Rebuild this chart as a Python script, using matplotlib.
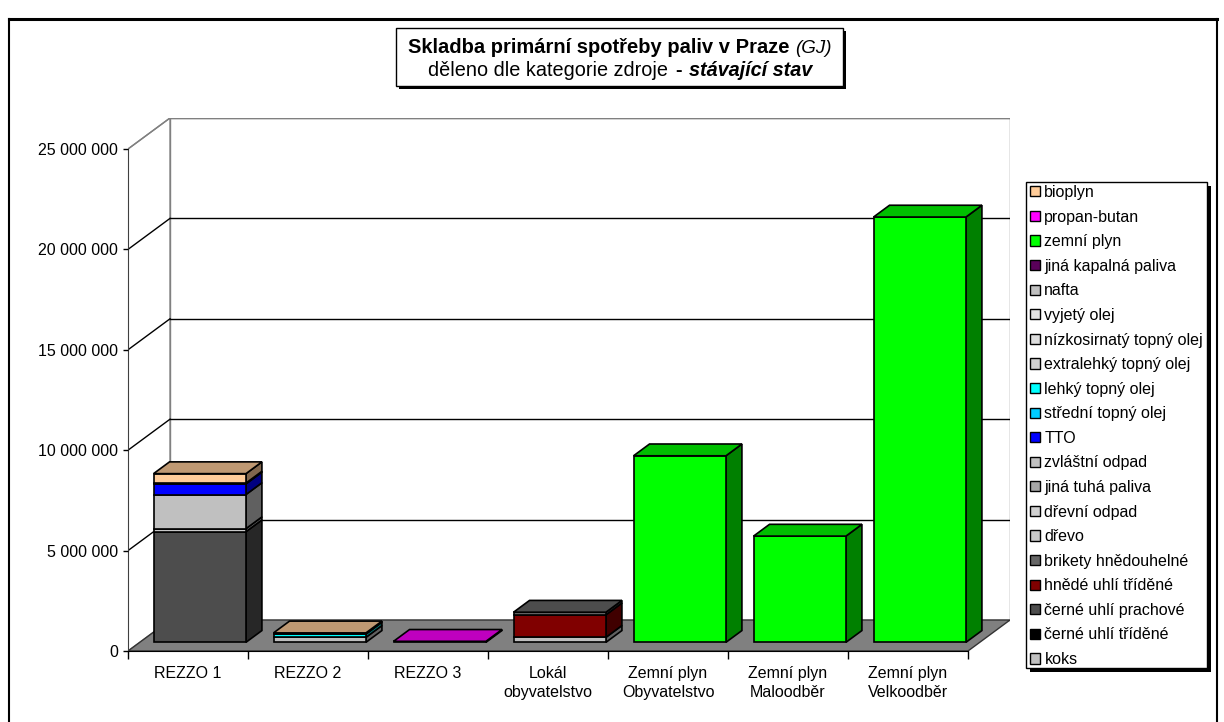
import matplotlib
matplotlib.use("Agg")
import matplotlib.pyplot as plt
import numpy as np
from matplotlib.patches import Polygon, Rectangle, Patch
from matplotlib.lines import Line2D
from matplotlib.colors import to_rgb
from matplotlib.offsetbox import TextArea, HPacker, VPacker, AnchoredOffsetbox

plt.rcParams["font.family"] = ["Liberation Sans", "DejaVu Sans"]

W, H = 1224, 722

categories = ["REZZO 1", "REZZO 2", "REZZO 3", "Lokál\nobyvatelstvo",
              "Zemní plyn\nObyvatelstvo", "Zemní plyn\nMaloodběr", "Zemní plyn\nVelkoodběr"]

# spotřeba paliv v GJ, jedna hodnota na kategorii zdroje
koks = [0, 250000, 0, 250000, 0, 0, 0]
cerne_uhli_tridene = [0, 0, 0, 0, 0, 0, 0]
cerne_uhli_prachove = [5510000, 0, 0, 0, 0, 0, 0]
hnede_uhli_tridene = [0, 0, 0, 1120000, 0, 0, 0]
brikety = [0, 0, 0, 130000, 0, 0, 0]
drevo = [150000, 0, 0, 0, 0, 0, 0]
drevni_odpad = [0, 0, 0, 0, 0, 0, 0]
jina_tuha_paliva = [0, 0, 0, 0, 0, 0, 0]
zvlastni_odpad = [1700000, 0, 0, 0, 0, 0, 0]
tto = [530000, 0, 0, 0, 0, 0, 0]
stredni_to = [0, 0, 0, 0, 0, 0, 0]
lehky_to = [0, 160000, 0, 0, 0, 0, 0]
extralehky_to = [0, 0, 0, 0, 0, 0, 0]
nizkosirnaty_to = [0, 0, 0, 0, 0, 0, 0]
vyjety_olej = [0, 0, 0, 0, 0, 0, 0]
nafta = [0, 0, 0, 0, 0, 0, 0]
jina_kapalna_paliva = [40000, 0, 0, 0, 0, 0, 0]
zemni_plyn = [0, 0, 0, 0, 9290000, 5290000, 21180000]
propan_butan = [0, 0, 50000, 0, 0, 0, 0]
bioplyn = [470000, 60000, 0, 0, 0, 0, 0]

# series in stacking order (bottom first)
series = [
    ("koks", koks, "#C0C0C0"),
    ("černé uhlí tříděné", cerne_uhli_tridene, "#000000"),
    ("černé uhlí prachové", cerne_uhli_prachove, "#4D4D4D"),
    ("hnědé uhlí tříděné", hnede_uhli_tridene, "#800000"),
    ("brikety hnědouhelné", brikety, "#666666"),
    ("dřevo", drevo, "#C8C8C8"),
    ("dřevní odpad", drevni_odpad, "#D0D0D0"),
    ("jiná tuhá paliva", jina_tuha_paliva, "#A6A6A6"),
    ("zvláštní odpad", zvlastni_odpad, "#C0C0C0"),
    ("TTO", tto, "#0000FF"),
    ("střední topný olej", stredni_to, "#00CCFF"),
    ("lehký topný olej", lehky_to, "#00FFFF"),
    ("extralehký topný olej", extralehky_to, "#D0D0D0"),
    ("nízkosirnatý topný olej", nizkosirnaty_to, "#DDDDDD"),
    ("vyjetý olej", vyjety_olej, "#E3E3E3"),
    ("nafta", nafta, "#C0C0C0"),
    ("jiná kapalná paliva", jina_kapalna_paliva, "#5A005A"),
    ("zemní plyn", zemni_plyn, "#00FF00"),
    ("propan-butan", propan_butan, "#FF00FF"),
    ("bioplyn", bioplyn, "#FFCC99"),
]

# pseudo 3D geometry
Y_PX = 5e6 / 100.4          # GJ per pixel
DEPTH_X = 42 / 120          # wall depth in category units
DEPTH_Y = 31 * Y_PX         # wall depth in GJ
BAR_W = 0.77
Z0, Z1 = 0.28, 0.66         # front / back of the columns inside the depth
Y_TOP = 25e6


def shade(c, f):
    return tuple(np.array(to_rgb(c)) * f)


fig = plt.figure(figsize=(W / 100, H / 100), dpi=100)
ax = fig.add_axes([128 / W, (H - 651) / H, (1010 - 128) / W, (651 - 118) / H])
n = len(categories)
ax.set_xlim(0, 882 / 120)
ax.set_ylim(0, 533 * Y_PX)
ax.patch.set_visible(False)

# walls and floor
back = Rectangle((DEPTH_X, DEPTH_Y), n, Y_TOP, facecolor="white", edgecolor="#808080", lw=1, zorder=0.5)
ax.add_patch(back)
side = Polygon([(0, 0), (0, Y_TOP), (DEPTH_X, Y_TOP + DEPTH_Y), (DEPTH_X, DEPTH_Y)],
               closed=True, facecolor="white", edgecolor="#808080", lw=1, zorder=0.5)
ax.add_patch(side)
floor = Polygon([(0, 0), (n, 0), (n + DEPTH_X, DEPTH_Y), (DEPTH_X, DEPTH_Y)],
                closed=True, facecolor="#808080", edgecolor="#333333", lw=1, zorder=0.9)
ax.add_patch(floor)

# gridlines on the back and left wall
for v in np.arange(5e6, Y_TOP + 1, 5e6):
    c = "#808080" if v == Y_TOP else "black"
    ax.plot([DEPTH_X, n + DEPTH_X], [v + DEPTH_Y, v + DEPTH_Y], color=c, lw=1, zorder=0.8)
    ax.plot([0, DEPTH_X], [v, v + DEPTH_Y], color=c, lw=1, zorder=0.8)

# stacked columns
fx, fy = Z0 * DEPTH_X, Z0 * DEPTH_Y
sx, sy = (Z1 - Z0) * DEPTH_X, (Z1 - Z0) * DEPTH_Y
for i in range(n):
    x0 = i + 0.5 - BAR_W / 2 + fx
    x1 = x0 + BAR_W
    base = 0.0
    top_color = None
    for name, vals, color in series:
        v = vals[i]
        if v <= 0:
            continue
        y0, y1 = base + fy, base + v + fy
        ax.add_patch(Polygon([(x1, y0), (x1 + sx, y0 + sy), (x1 + sx, y1 + sy), (x1, y1)],
                             closed=True, facecolor=shade(color, 0.5), edgecolor="black",
                             lw=1.2, zorder=2, clip_on=False))
        ax.bar(x0, v, width=BAR_W, bottom=y0, align="edge", color=color,
               edgecolor="black", lw=1.2, zorder=2, clip_on=False)
        base += v
        top_color = color
    if top_color is not None:
        yt = base + fy
        ax.add_patch(Polygon([(x0, yt), (x1, yt), (x1 + sx, yt + sy), (x0 + sx, yt + sy)],
                             closed=True, facecolor=shade(top_color, 0.75), edgecolor="black",
                             lw=1.2, zorder=2, clip_on=False))

# axes
for s in ["top", "right"]:
    ax.spines[s].set_visible(False)
ax.spines["left"].set_bounds(0, Y_TOP)
ax.spines["bottom"].set_bounds(0, n)
ax.spines["left"].set_color("#404040")
ax.spines["left"].set_zorder(0.95)
ax.spines["bottom"].set_zorder(0.95)

ax.set_yticks(np.arange(0, Y_TOP + 1, 5e6))
ax.set_yticklabels([f"{v:,.0f}".replace(",", " ") for v in np.arange(0, Y_TOP + 1, 5e6)])
ax.tick_params(axis="y", length=3.6, width=1, pad=3.5, labelsize=11.5)

ax.set_xticks(np.arange(n) + 0.5)
ax.set_xticklabels(categories, linespacing=1.3)
ax.set_xticks(np.arange(n + 1), minor=True)
ax.tick_params(axis="x", which="major", length=0, pad=11, labelsize=11.5)
ax.tick_params(axis="x", which="minor", length=5.8, width=1)

# title box with shadow
fig.add_artist(Rectangle((399 / W, 1 - 89 / H), 447 / W, 58 / H, transform=fig.transFigure,
                         facecolor="black", edgecolor="none"))
fig.add_artist(Rectangle((396 / W, 1 - 86 / H), 447 / W, 58 / H, transform=fig.transFigure,
                         facecolor="white", edgecolor="black", lw=1))
line1 = HPacker(children=[
    TextArea("Skladba primární spotřeby paliv v Praze", textprops=dict(size=14.5, weight="bold")),
    TextArea("(GJ)", textprops=dict(size=13.5, style="italic")),
], align="baseline", pad=0, sep=4)
line2 = HPacker(children=[
    TextArea("děleno dle kategorie zdroje", textprops=dict(size=14.3)),
    TextArea("-", textprops=dict(size=14.3, weight="bold")),
    TextArea("stávající stav", textprops=dict(size=14.3, weight="bold", style="italic")),
], align="baseline", pad=0, sep=5)
title = AnchoredOffsetbox(loc="center", child=VPacker(children=[line1, line2], align="center", pad=0, sep=2.2),
                          frameon=False, pad=0, borderpad=0,
                          bbox_to_anchor=(620 / W, 1 - 59 / H), bbox_transform=fig.transFigure)
fig.add_artist(title)

# legend with shadow, top entry = last series
fig.add_artist(Rectangle((1030 / W, 1 - 672 / H), 181 / W, 486 / H, transform=fig.transFigure,
                         facecolor="black", edgecolor="none"))
fig.add_artist(Rectangle((1026 / W, 1 - 668 / H), 181 / W, 486 / H, transform=fig.transFigure,
                         facecolor="white", edgecolor="black", lw=1))
handles = [Patch(facecolor=c, edgecolor="black", lw=1, label=name) for name, _, c in reversed(series)]
fig.legend(handles=handles, loc="upper left", bbox_to_anchor=(1030 / W, 1 - 185 / H),
           frameon=False, fontsize=11.5, handlelength=0.6, handleheight=0.6,
           handletextpad=0.3, labelspacing=0.6, borderpad=0, borderaxespad=0)

# outer frame of the chart area
fig.add_artist(Line2D([9 / W, 1217 / W], [1 - 19 / H, 1 - 19 / H], transform=fig.transFigure, color="black", lw=2.2))
fig.add_artist(Line2D([9 / W, 9 / W], [1 - 19 / H, 0], transform=fig.transFigure, color="black", lw=1.5))
fig.add_artist(Line2D([1217 / W, 1217 / W], [1 - 19 / H, 0], transform=fig.transFigure, color="black", lw=1.5))

fig.savefig("out.png", dpi=100)
